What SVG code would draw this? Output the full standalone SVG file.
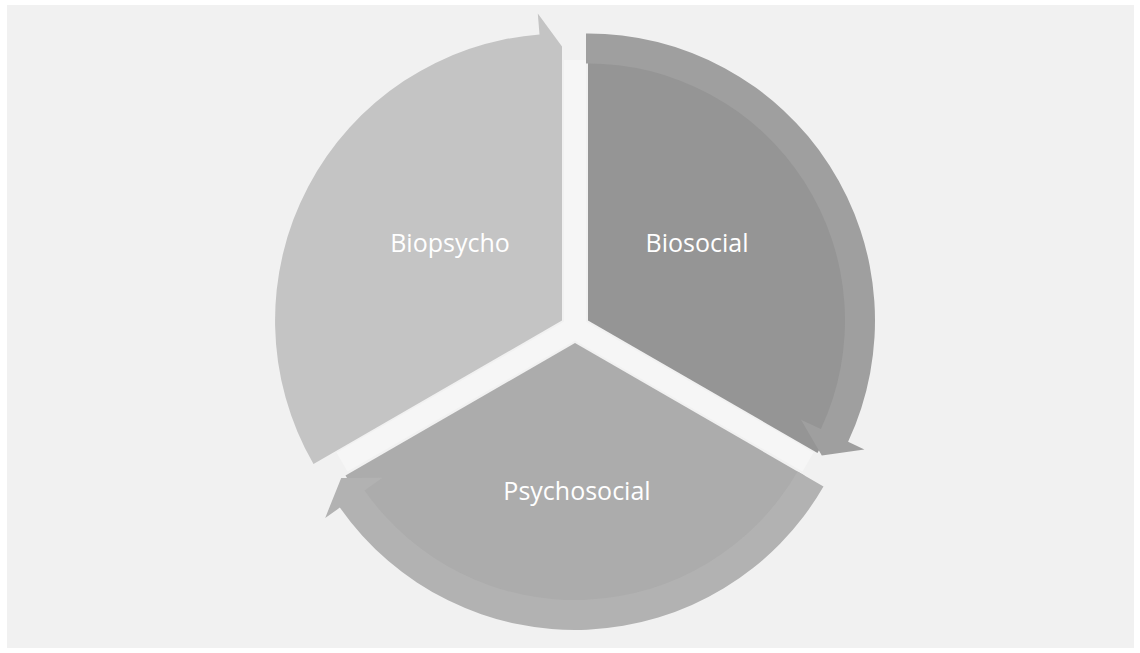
<svg xmlns="http://www.w3.org/2000/svg" width="1140" height="653" viewBox="0 0 1140 653">
  <style>
    .lbl { font-family: "Open Sans", "Liberation Sans", sans-serif; font-size: 25px; fill: #ffffff; text-anchor: middle; }
  </style>
  <rect x="0" y="0" width="1140" height="653" fill="#ffffff"/>
  <rect x="7" y="5" width="1127" height="643" fill="#f1f1f1"/>
  <g id="connectors">
    <path d="M575,328 L575,60 M575,328 L808,462 M575,328 L342,462" stroke="#f6f6f6" stroke-width="22" fill="none"/>
  </g>
  <g id="biopsycho">
    <path d="M562,320.5 L313.5,464 A287,287 0 0 1 539.5,34.4 L537.8,13.4 L562,46.5 Z" fill="#c4c4c4"/>
    <text class="lbl" x="450" y="252">Biopsycho</text>
  </g>
  <g id="biosocial">
    <path d="M588,320.5 L588,55.5 A265,265 0 0 1 817.5,453 Z" fill="#959595"/>
    <path d="M586,63.5 L586,33.5 A287,287 0 0 1 848.1,441.8 L864.4,449.4 L821.8,455.5 L801,419.8 L820.9,429.1 A257,257 0 0 0 586,63.5 Z" fill="#9f9f9f"/>
    <text class="lbl" x="697" y="252">Biosocial</text>
  </g>
  <g id="psychosocial">
    <path d="M575,343 L804.5,475.5 A265,265 0 0 1 345.5,475.5 Z" fill="#acacac"/>
    <path d="M797.6,471.5 L823.5,486.5 A287,287 0 0 1 339.9,507.6 L325.2,517.9 L341.2,478 L382.5,477.8 L364.5,490.4 A257,257 0 0 0 797.6,471.5 Z" fill="#b2b2b2"/>
    <text class="lbl" x="577" y="500">Psychosocial</text>
  </g>
</svg>
